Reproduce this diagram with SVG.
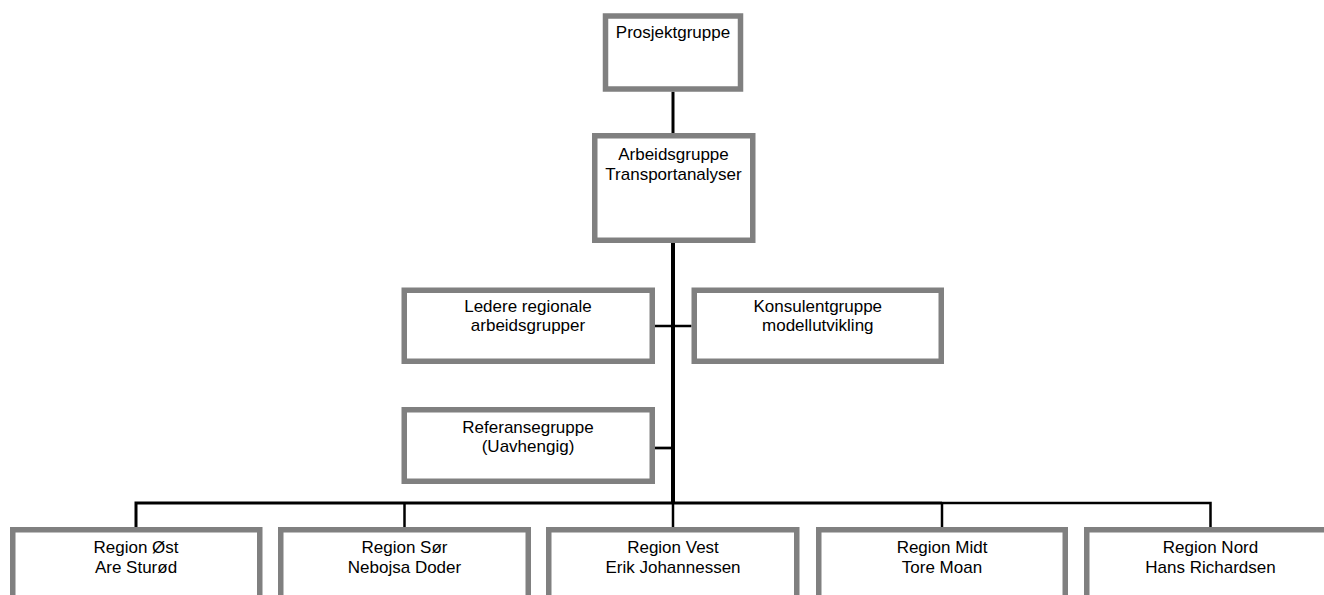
<svg xmlns="http://www.w3.org/2000/svg" width="1324" height="595" viewBox="0 0 1324 595">
<style>
.box{fill:#ffffff;stroke:#808080;stroke-width:5.5}
.lbl{font-family:"Liberation Sans",Arial,sans-serif;font-size:17px;fill:#000000;text-anchor:middle}
.con{stroke:#000000;fill:none;stroke-linecap:butt}
</style>
<rect width="1324" height="595" fill="#ffffff"/>
<g id="connectors">
<line class="con" x1="673" y1="91.7" x2="673" y2="133" stroke-width="3"/>
<line class="con" x1="673" y1="242.7" x2="673" y2="504" stroke-width="4"/>
<line class="con" x1="655" y1="326" x2="691.5" y2="326" stroke-width="2.7"/>
<line class="con" x1="655" y1="448" x2="673" y2="448" stroke-width="2.7"/>
<polyline class="con" points="136,527 136,503 942,503" stroke-width="3"/>
<polyline class="con" points="942,503 1210.5,503 1210.5,527" stroke-width="2.5"/>
<line class="con" x1="404.5" y1="503" x2="404.5" y2="527" stroke-width="2.5"/>
<line class="con" x1="673" y1="503" x2="673" y2="527" stroke-width="2.5"/>
<line class="con" x1="942" y1="503" x2="942" y2="527" stroke-width="2.5"/>
</g>
<g id="prosjektgruppe">
<rect class="box" x="605.5" y="16" width="135" height="73"/>
<text class="lbl" x="673" y="37.5">Prosjektgruppe</text>
</g>
<g id="arbeidsgruppe">
<rect class="box" x="594.75" y="135.75" width="158" height="104.5"/>
<text class="lbl" x="673.5" y="160">Arbeidsgruppe</text>
<text class="lbl" x="673.5" y="179.5">Transportanalyser</text>
</g>
<g id="ledere">
<rect class="box" x="404.25" y="290.25" width="248" height="71"/>
<text class="lbl" x="528" y="312">Ledere regionale</text>
<text class="lbl" x="528" y="331">arbeidsgrupper</text>
</g>
<g id="konsulent">
<rect class="box" x="694.25" y="290.25" width="247" height="71"/>
<text class="lbl" x="817.8" y="312">Konsulentgruppe</text>
<text class="lbl" x="817.8" y="331">modellutvikling</text>
</g>
<g id="referanse">
<rect class="box" x="404.25" y="409.75" width="248" height="71.5"/>
<text class="lbl" x="528" y="433">Referansegruppe</text>
<text class="lbl" x="528" y="452">(Uavhengig)</text>
</g>
<g id="region-ost">
<rect class="box" x="12.75" y="529.75" width="247" height="100"/>
<text class="lbl" x="136" y="553">Region Øst</text>
<text class="lbl" x="136" y="572.5">Are Sturød</text>
</g>
<g id="region-sor">
<rect class="box" x="280.75" y="529.75" width="247.5" height="100"/>
<text class="lbl" x="404.5" y="553">Region Sør</text>
<text class="lbl" x="404.5" y="572.5">Nebojsa Doder</text>
</g>
<g id="region-vest">
<rect class="box" x="548.75" y="529.75" width="248" height="100"/>
<text class="lbl" x="673" y="553">Region Vest</text>
<text class="lbl" x="673" y="572.5">Erik Johannessen</text>
</g>
<g id="region-midt">
<rect class="box" x="818.75" y="529.75" width="246.5" height="100"/>
<text class="lbl" x="942" y="553">Region Midt</text>
<text class="lbl" x="942" y="572.5">Tore Moan</text>
</g>
<g id="region-nord">
<rect class="box" x="1086.75" y="529.75" width="248" height="100"/>
<text class="lbl" x="1210.5" y="553">Region Nord</text>
<text class="lbl" x="1210.5" y="572.5">Hans Richardsen</text>
</g>
</svg>
